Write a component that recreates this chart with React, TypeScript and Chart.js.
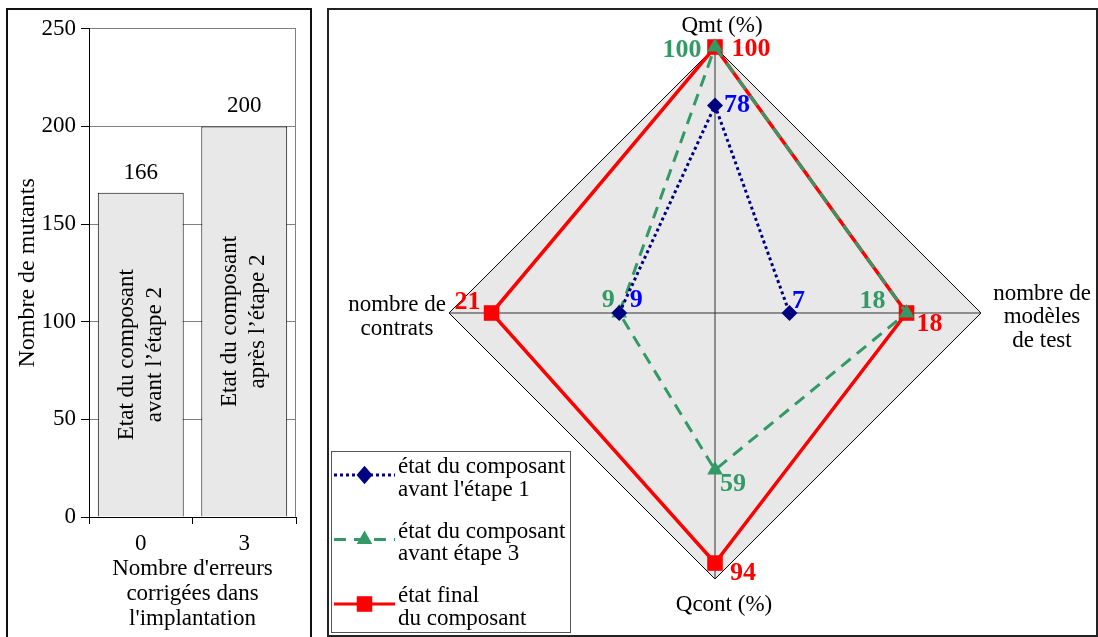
import React, { useEffect, useRef } from 'react';
import { Chart, registerables } from 'chart.js';

Chart.register(...registerables);

const SERIF = '"Liberation Serif", "Times New Roman", serif';

// ---------- Bar chart data ----------
const barCategories = ['0', '3'];
const barValues = [166, 200];
const barInnerLabels = [
  ['Etat du composant', 'avant l’étape 2'],
  ['Etat du composant', 'après l’étape 2'],
];
const barYTicks = [0, 50, 100, 150, 200, 250];
const barYTitle = 'Nombre de mutants';
const barXTitle = ["Nombre d'erreurs", 'corrigées dans', "l'implantation"];

// ---------- Radar chart data ----------
const radarAxes: (string | string[])[] = [
  'Qmt (%)',
  ['nombre de', 'modèles', 'de test'],
  'Qcont (%)',
  ['nombre de', 'contrats'],
];
const radarAxisMax = [100, 25, 100, 25];
const seriesNames = [
  ['état du composant', "avant l'étape 1"],
  ['état du composant', 'avant étape 3'],
  ['état final', 'du composant'],
];
const etatAvantEtape1 = [78, 7, null, 9];
const etatAvantEtape3 = [100, 18, 59, 9];
const etatFinal = [100, 18, 94, 21];
const radarSeries = [etatAvantEtape1, etatAvantEtape3, etatFinal];

// ---------- styles ----------
const lineColors = ['#000080', '#339966', '#ff0000'];
const labelColors = ['#0000ff', '#339966', '#ff0000'];
const lineDashes = [[3, 3], [12, 8], []];
const pointStyles = ['rectRot', 'triangle', 'rect'];
const pointRadii = [8, 9, 11];
// label offsets (px) relative to each point
const valueOffsets = [
  [[22, 0], [9, -12], [0, 0], [17, -13]],
  [[-33, 3], [-34, -12], [18, 14], [-11, -13]],
  [[36, 2], [23, 11], [28, 10], [-24, -11]],
];
const axisLabelOffsets = [[7, -21], [61, 4], [9, 26], [-52, 4]];

const norm = (arr: (number | null)[]) =>
  arr.map((v, j) => (v == null ? null : (v / radarAxisMax[j]) * 100));

function drawMarker(ctx: CanvasRenderingContext2D, style: string, x: number, y: number, r: number, color: string) {
  ctx.save();
  ctx.setLineDash([]);
  ctx.fillStyle = color;
  ctx.beginPath();
  if (style === 'rectRot') {
    ctx.moveTo(x - r, y);
    ctx.lineTo(x, y - r * 1.15);
    ctx.lineTo(x + r, y);
    ctx.lineTo(x, y + r * 1.15);
  } else if (style === 'triangle') {
    ctx.moveTo(x, y - r);
    ctx.lineTo(x + r * 0.866, y + r / 2);
    ctx.lineTo(x - r * 0.866, y + r / 2);
  } else {
    const s = r * Math.SQRT1_2;
    ctx.rect(x - s, y - s, 2 * s, 2 * s);
  }
  ctx.closePath();
  ctx.fill();
  ctx.restore();
}

const barTextPlugin = {
  id: 'barText',
  beforeDatasetsDraw(chart: any) {
    const { ctx, chartArea } = chart;
    ctx.save();
    ctx.strokeStyle = '#808080';
    ctx.lineWidth = 1;
    ctx.beginPath();
    const xr = Math.round(chartArea.right) - 0.5;
    ctx.moveTo(xr, chartArea.top);
    ctx.lineTo(xr, chartArea.bottom);
    ctx.stroke();
    ctx.restore();
  },
  afterDatasetsDraw(chart: any) {
    const { ctx } = chart;
    const meta = chart.getDatasetMeta(0);
    meta.data.forEach((bar: any, i: number) => {
      const { x, y, base } = bar.getProps(['x', 'y', 'base'], true);
      ctx.save();
      ctx.font = `23px ${SERIF}`;
      ctx.fillStyle = '#000';
      ctx.textAlign = 'center';
      ctx.textBaseline = 'alphabetic';
      ctx.fillText(String(barValues[i]), x, y - 14);
      ctx.translate(x, (y + base) / 2);
      ctx.rotate(-Math.PI / 2);
      ctx.textBaseline = 'middle';
      const lines = barInnerLabels[i];
      const lh = 28;
      lines.forEach((t, k) => ctx.fillText(t, 0, (k - (lines.length - 1) / 2) * lh));
      ctx.restore();
    });
  },
};

const radarPlugin = {
  id: 'radarDecor',
  afterDatasetsDraw(chart: any) {
    const { ctx } = chart;
    const scale = chart.scales.r;
    ctx.save();
    // axis labels
    ctx.font = `23px ${SERIF}`;
    ctx.fillStyle = '#000';
    ctx.textAlign = 'center';
    ctx.textBaseline = 'middle';
    radarAxes.forEach((lab, i) => {
      const p = scale.getPointPosition(i, scale.drawingArea);
      const [dx, dy] = axisLabelOffsets[i];
      const lines = Array.isArray(lab) ? lab : [lab];
      const lh = 23.5;
      lines.forEach((t, k) => ctx.fillText(t, p.x + dx, p.y + dy + (k - (lines.length - 1) / 2) * lh));
    });
    // value labels
    ctx.font = `bold 26px ${SERIF}`;
    radarSeries.forEach((series, i) => {
      const meta = chart.getDatasetMeta(i);
      series.forEach((v, j) => {
        if (v == null) return;
        const el = meta.data[j];
        const [dx, dy] = valueOffsets[i][j];
        ctx.fillStyle = labelColors[i];
        ctx.fillText(String(v), el.x + dx, el.y + dy);
      });
    });
    // legend
    const bx = 2.5, by = 441.5, bw = 239, bh = 181;
    ctx.strokeStyle = '#555';
    ctx.lineWidth = 1;
    ctx.strokeRect(bx, by, bw, bh);
    ctx.font = `23px ${SERIF}`;
    ctx.textAlign = 'left';
    ctx.textBaseline = 'alphabetic';
    seriesNames.forEach((lines, i) => {
      const sy = 465 + i * 64.5;
      ctx.save();
      ctx.strokeStyle = lineColors[i];
      ctx.lineWidth = 3;
      ctx.setLineDash(lineDashes[i]);
      ctx.beginPath();
      ctx.moveTo(5, sy);
      ctx.lineTo(66, sy);
      ctx.stroke();
      ctx.restore();
      drawMarker(ctx, pointStyles[i], 35.5, sy, pointRadii[i], lineColors[i]);
      ctx.fillStyle = '#000';
      lines.forEach((t, k) => ctx.fillText(t, 69, sy - 2 + k * 22.5));
    });
    ctx.restore();
  },
};

function BarPanel() {
  const ref = useRef<HTMLCanvasElement>(null);
  useEffect(() => {
    const chart = new Chart(ref.current!, {
      type: 'bar',
      data: {
        labels: barCategories,
        datasets: [
          {
            data: barValues,
            backgroundColor: '#e8e8e8',
            borderColor: '#000',
            borderWidth: 1,
            barPercentage: 0.83,
            categoryPercentage: 1,
          },
        ],
      },
      options: {
        animation: false,
        responsive: false,
        maintainAspectRatio: false,
        layout: { padding: { left: 0, top: 17, right: 14, bottom: 0 } },
        plugins: { legend: { display: false }, tooltip: { enabled: false } },
        scales: {
          x: {
            grid: { display: true, drawOnChartArea: false, drawTicks: true, tickLength: 7, color: '#000', offset: true },
            border: { color: '#000', width: 1 },
            ticks: { font: { family: SERIF, size: 23 }, color: '#000', padding: 6 },
            title: {
              display: true,
              text: barXTitle,
              font: { family: SERIF, size: 23, lineHeight: 1.1 },
              color: '#000',
              padding: { top: 0, bottom: 5 },
            },
            afterFit: (s: any) => {
              s.height = 120;
            },
          },
          y: {
            min: 0,
            max: 250,
            afterBuildTicks: (s: any) => {
              s.ticks = barYTicks.map((v) => ({ value: v }));
            },
            ticks: { font: { family: SERIF, size: 23 }, color: '#000', padding: 5 },
            grid: { color: '#808080', tickColor: '#000', tickLength: 8 },
            border: { color: '#000', width: 1 },
            title: {
              display: true,
              text: barYTitle,
              font: { family: SERIF, size: 24, lineHeight: 1.2 },
              color: '#000',
              padding: { top: 5, bottom: 0 },
            },
            afterFit: (s: any) => {
              s.width = 81;
            },
          },
        },
      } as any,
      plugins: [barTextPlugin],
    });
    return () => chart.destroy();
  }, []);
  return (
    <canvas
      ref={ref}
      width={302}
      height={627}
      style={{ position: 'absolute', left: 8, top: 10, width: 302, height: 627 }}
    />
  );
}

function RadarPanel() {
  const ref = useRef<HTMLCanvasElement>(null);
  useEffect(() => {
    const chart = new Chart(ref.current!, {
      type: 'radar',
      data: {
        labels: radarAxes as any,
        datasets: radarSeries.map((s, i) => ({
          label: seriesNames[i].join(' '),
          data: norm(s),
          borderColor: lineColors[i],
          borderWidth: i === 2 ? 3.5 : 3,
          borderDash: lineDashes[i],
          pointStyle: pointStyles[i],
          pointRadius: pointRadii[i],
          pointBackgroundColor: lineColors[i],
          pointBorderColor: lineColors[i],
          pointBorderWidth: 0,
          fill: false,
          spanGaps: false,
        })),
      },
      options: {
        animation: false,
        responsive: false,
        maintainAspectRatio: false,
        layout: { padding: { left: 120, top: 37, right: 115, bottom: 56 } },
        plugins: { legend: { display: false }, tooltip: { enabled: false } },
        elements: { line: { tension: 0 } },
        scales: {
          r: {
            min: 0,
            max: 100,
            backgroundColor: '#e8e8e8',
            ticks: { display: false, stepSize: 100 },
            grid: { color: '#000', lineWidth: 1 },
            angleLines: { color: '#333', lineWidth: 1 },
            pointLabels: { display: false },
          },
        },
      } as any,
      plugins: [radarPlugin],
    });
    return () => chart.destroy();
  }, []);
  return (
    <canvas
      ref={ref}
      width={767}
      height={625}
      style={{ position: 'absolute', left: 329, top: 10, width: 767, height: 625 }}
    />
  );
}

export default function App() {
  useEffect(() => {
    document.body.style.overflow = 'hidden';
  }, []);
  return (
    <div>
      <div
        style={{
          position: 'absolute',
          left: 6,
          top: 8,
          width: 306,
          height: 629,
          boxSizing: 'border-box',
          border: '2px solid #111',
          borderBottom: 'none',
        }}
      />
      <div
        style={{
          position: 'absolute',
          left: 327,
          top: 8,
          width: 771,
          height: 629,
          boxSizing: 'border-box',
          border: '2px solid #222',
        }}
      />
      <BarPanel />
      <RadarPanel />
    </div>
  );
}
